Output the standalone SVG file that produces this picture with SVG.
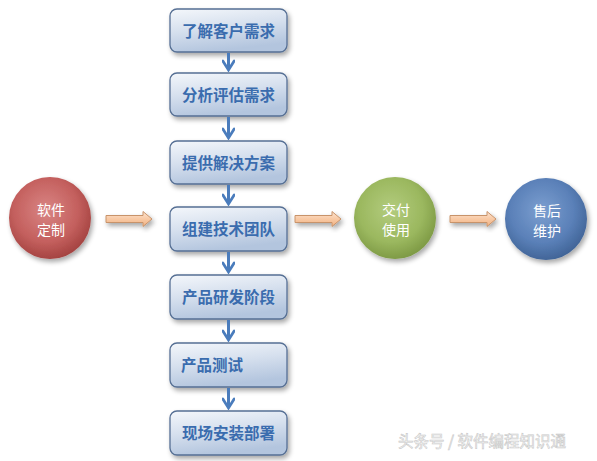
<svg xmlns="http://www.w3.org/2000/svg" width="597" height="461" viewBox="0 0 597 461">
<defs>
  <linearGradient id="boxg" x1="0" y1="0" x2="0.3" y2="1">
    <stop offset="0" stop-color="#f4f7fb"/>
    <stop offset="0.5" stop-color="#d6e0ee"/>
    <stop offset="1" stop-color="#b3c5de"/>
  </linearGradient>
  <radialGradient id="redg" cx="0.45" cy="0.4" r="0.65">
    <stop offset="0" stop-color="#d98584"/>
    <stop offset="0.6" stop-color="#c4605e"/>
    <stop offset="1" stop-color="#9e3d3b"/>
  </radialGradient>
  <radialGradient id="greeng" cx="0.45" cy="0.4" r="0.65">
    <stop offset="0" stop-color="#b3cc7e"/>
    <stop offset="0.6" stop-color="#9bb85f"/>
    <stop offset="1" stop-color="#789440"/>
  </radialGradient>
  <radialGradient id="blueg" cx="0.45" cy="0.4" r="0.65">
    <stop offset="0" stop-color="#7c9fd0"/>
    <stop offset="0.6" stop-color="#5a80b8"/>
    <stop offset="1" stop-color="#3c5f91"/>
  </radialGradient>
  <linearGradient id="orag" x1="0" y1="0" x2="0" y2="1">
    <stop offset="0" stop-color="#fde4d2"/>
    <stop offset="0.5" stop-color="#f8c9a4"/>
    <stop offset="1" stop-color="#f0b284"/>
  </linearGradient>
  <filter id="sh" x="-20%" y="-20%" width="150%" height="160%">
    <feGaussianBlur in="SourceAlpha" stdDeviation="2.5"/>
    <feOffset dx="2" dy="3" result="b"/>
    <feComponentTransfer><feFuncA type="linear" slope="0.35"/></feComponentTransfer>
    <feMerge><feMergeNode/><feMergeNode in="SourceGraphic"/></feMerge>
  </filter>
  <marker id="ah" viewBox="0 0 12 12" refX="10" refY="6" markerWidth="4.5" markerHeight="4.5" orient="auto" markerUnits="strokeWidth">
    <path d="M2,1 L10,6 L2,11" fill="none" stroke="#4a7cbc" stroke-width="2.4" stroke-linecap="round" stroke-linejoin="miter"/>
  </marker>
</defs>
<style>
  .box{fill:url(#boxg);stroke:#566f94;stroke-width:1.3;filter:url(#sh)}
  .bt{font-family:"Noto Sans CJK SC",sans-serif;font-weight:bold;font-size:15.5px;fill:#3a6cae;text-anchor:middle}
  .ct{font-family:"Noto Sans CJK SC",sans-serif;font-size:14px;fill:#ffffff;text-anchor:middle}
  .dn{stroke:#4a7cbc;stroke-width:3;fill:none;marker-end:url(#ah)}
  .oa{fill:url(#orag);stroke:#c8936a;stroke-width:1;filter:url(#sh)}
  .wm{font-family:"Noto Sans CJK SC",sans-serif;font-size:15.5px;fill:#ffffff;stroke:#c8c8c8;stroke-width:0.6}
</style>
<rect width="597" height="461" fill="#ffffff"/>

<g id="n1"><rect class="box" x="170" y="9" width="117" height="43" rx="7"/><text class="bt" x="228.5" y="36.5">了解客户需求</text></g>
<g id="n2"><rect class="box" x="170" y="73" width="117" height="43" rx="7"/><text class="bt" x="228.5" y="100.5">分析评估需求</text></g>
<g id="n3"><rect class="box" x="170" y="141" width="117" height="43" rx="7"/><text class="bt" x="228.5" y="168.5">提供解决方案</text></g>
<g id="n4"><rect class="box" x="170" y="207" width="117" height="44" rx="7"/><text class="bt" x="228.5" y="235">组建技术团队</text></g>
<g id="n5"><rect class="box" x="170" y="275" width="117" height="44" rx="7"/><text class="bt" x="228.5" y="303">产品研发阶段</text></g>
<g id="n6"><rect class="box" x="170" y="343" width="117" height="44" rx="7"/><text class="bt" x="212" y="371">产品测试</text></g>
<g id="n7"><rect class="box" x="170" y="411" width="117" height="44" rx="7"/><text class="bt" x="228.5" y="439">现场安装部署</text></g>

<g id="c1"><circle cx="50" cy="218" r="41" fill="url(#redg)" filter="url(#sh)"/><text class="ct" x="51" y="214.5">软件</text><text class="ct" x="51" y="235">定制</text></g>
<g id="c2"><circle cx="395" cy="218" r="41" fill="url(#greeng)" filter="url(#sh)"/><text class="ct" x="396" y="214.5">交付</text><text class="ct" x="396" y="235">使用</text></g>
<g id="c3"><circle cx="546" cy="219" r="41" fill="url(#blueg)" filter="url(#sh)"/><text class="ct" x="547" y="215.5">售后</text><text class="ct" x="547" y="236">维护</text></g>

<g id="connectors">
  <line class="dn" x1="228.5" y1="53" x2="228.5" y2="70"/>
  <line class="dn" x1="228.5" y1="117" x2="228.5" y2="138"/>
  <line class="dn" x1="228.5" y1="185" x2="228.5" y2="204"/>
  <line class="dn" x1="228.5" y1="252" x2="228.5" y2="272"/>
  <line class="dn" x1="228.5" y1="320" x2="228.5" y2="340"/>
  <line class="dn" x1="228.5" y1="388" x2="228.5" y2="408"/>
  <path class="oa" d="M106,215.5 H143 V211.5 L152,219 L143,226.5 V222.5 H106 Z"/>
  <path class="oa" d="M295,215.5 H332 V211.5 L341,219 L332,226.5 V222.5 H295 Z"/>
  <path class="oa" d="M450,215.5 H487 V211.5 L496,219 L487,226.5 V222.5 H450 Z"/>
</g>

<text class="wm" x="398" y="447">头条号 / 软件编程知识通</text>
</svg>
